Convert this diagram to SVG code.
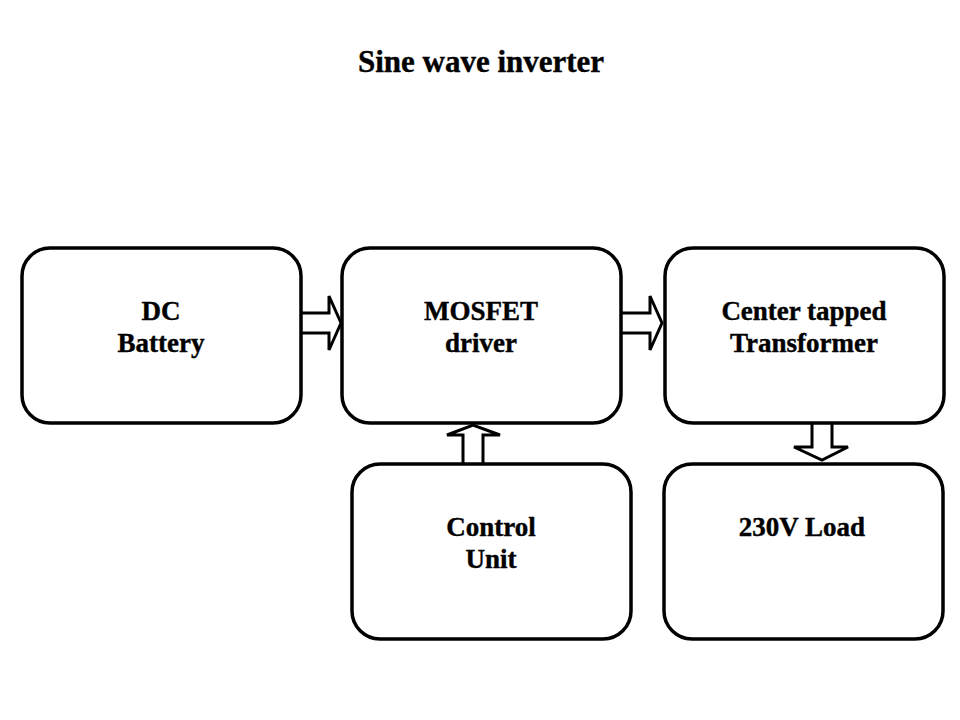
<svg xmlns="http://www.w3.org/2000/svg" width="960" height="720" viewBox="0 0 960 720">
<style>
.box{fill:#fff;stroke:#000;stroke-width:3.5}
.arr{fill:#fff;stroke:#000;stroke-width:3;stroke-linejoin:miter}
text{font-family:"Liberation Serif","Times New Roman",serif;font-weight:bold;fill:#000;text-anchor:middle;stroke:#000;stroke-width:0.4}
.lbl{font-size:27px}
.title{font-size:31px}
</style>
<rect width="960" height="720" fill="#fff"/>
<text class="title" x="481" y="72">Sine wave inverter</text>
<g id="connectors">
<path class="arr" d="M301,313 H329 V296 L341,323 L329,350 V333 H301"/>
<path class="arr" d="M621,313 H650 V296 L662,323 L650,350 V333 H621"/>
<path class="arr" d="M463,464 V435 H447 L473,425 L500,435 H483 V464"/>
<path class="arr" d="M812,423 V447 H794 L822,460 L848,447 H832 V423"/>
</g>
<g id="battery">
<rect class="box" x="22" y="248" width="279" height="175" rx="28"/>
<text class="lbl" x="161" y="320">DC</text>
<text class="lbl" x="161" y="352">Battery</text>
</g>
<g id="mosfet">
<rect class="box" x="342" y="248" width="279" height="175" rx="28"/>
<text class="lbl" x="481" y="320">MOSFET</text>
<text class="lbl" x="481" y="352">driver</text>
</g>
<g id="transformer">
<rect class="box" x="665" y="248" width="279" height="175" rx="28"/>
<text class="lbl" x="804" y="320">Center tapped</text>
<text class="lbl" x="804" y="352">Transformer</text>
</g>
<g id="control">
<rect class="box" x="352" y="464" width="279" height="175" rx="28"/>
<text class="lbl" x="491" y="536">Control</text>
<text class="lbl" x="491" y="568">Unit</text>
</g>
<g id="load">
<rect class="box" x="664" y="464" width="279" height="175" rx="28"/>
<text class="lbl" x="802" y="536">230V Load</text>
</g>
</svg>
